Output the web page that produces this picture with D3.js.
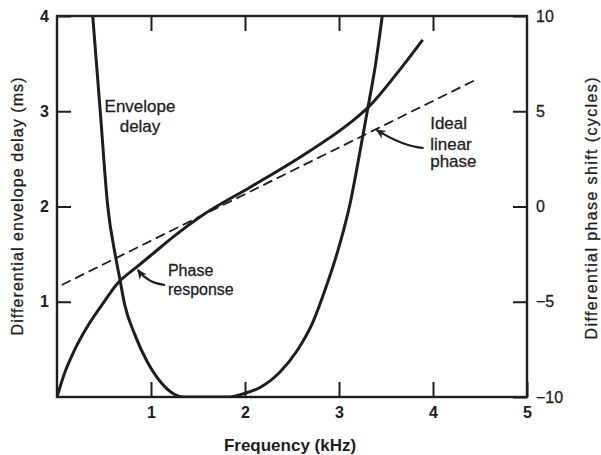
<!DOCTYPE html>
<html>
<head>
<meta charset="utf-8">
<script src="https://cdn.jsdelivr.net/npm/d3@7"></script>
<style>
  html, body { margin: 0; padding: 0; background: #fff; }
  svg { display: block; font-family: "Liberation Sans", Arial, sans-serif; }
</style>
</head>
<body>
<svg id="chart" width="601" height="455"></svg>
<script>
// ---- data ----
const envFreq  = [0.38, 0.46, 0.54, 0.62, 0.67, 0.72, 0.83, 0.96, 1.04, 1.10, 1.23, 1.35, 1.52, 1.84, 1.97, 2.16, 2.37, 2.55, 2.72, 2.85, 2.98, 3.12, 3.22, 3.31, 3.39, 3.46];
const envDelay = [4.0, 3.0, 2.0, 1.49, 1.23, 0.97, 0.65, 0.37, 0.24, 0.16, 0.04, 0.0, 0.0, 0.0, 0.03, 0.10, 0.26, 0.48, 0.78, 1.12, 1.51, 2.04, 2.56, 3.05, 3.5, 4.0];

const phaseFreq  = [0, 0.08, 0.19, 0.33, 0.48, 0.65, 0.83, 0.99, 1.26, 1.52, 2.05, 2.59, 3.12, 3.31, 3.65, 3.89];
const phaseShift = [-10, -8.75, -7.5, -6.25, -5.15, -4.0, -3.25, -2.6, -1.5, -0.55, 1.0, 2.6, 4.4, 5.2, 7.2, 8.75];

const idealFreq  = [0.05, 4.45];
const idealPhase = [-4.12, 6.64];

const xTickValues     = [1, 2, 3, 4, 5];
const leftTickValues  = [1, 2, 3, 4];
const rightTickValues = [10, 5, 0, -5, -10];

const xTitle     = "Frequency (kHz)";
const leftTitle  = "Differential envelope delay (ms)";
const rightTitle = "Differential phase shift (cycles)";

// ---- layout ----
const svg = d3.select("#chart");
const L = 57, R = 527, T = 16, B = 397;
const ink = "#1e1e1e";

const x  = d3.scaleLinear().domain([0, 5]).range([L, R]);
const yL = d3.scaleLinear().domain([0, 4]).range([B, T]);
const yR = d3.scaleLinear().domain([-10, 10]).range([B, T]);

const defs = svg.append("defs");
defs.append("clipPath").attr("id", "plot")
  .append("rect").attr("x", L).attr("y", T).attr("width", R - L).attr("height", B - T);

defs.append("marker")
  .attr("id", "arrow").attr("viewBox", "0 0 10 10").attr("refX", 9).attr("refY", 5)
  .attr("markerWidth", 10).attr("markerHeight", 10).attr("markerUnits", "userSpaceOnUse")
  .attr("orient", "auto")
  .append("path").attr("d", "M0,0.5 L10,5 L0,9.5 L3,5 Z").attr("fill", ink);

function styleAxis(g, fontSize, weight) {
  g.select(".domain").remove();
  g.selectAll(".tick line").attr("stroke", ink).attr("stroke-width", 2);
  g.selectAll(".tick text").attr("fill", ink).attr("font-size", fontSize)
    .attr("font-weight", weight).attr("font-family", "Liberation Sans, Arial, sans-serif");
}

// bottom axis
svg.append("g").attr("transform", `translate(0,${B})`)
  .call(d3.axisBottom(x).tickValues(xTickValues).tickFormat(d3.format("d")).tickSize(-15).tickPadding(10))
  .call(g => styleAxis(g, 16, "bold"));
// top axis (ticks only)
svg.append("g").attr("transform", `translate(0,${T})`)
  .call(d3.axisTop(x).tickValues(xTickValues.slice(0, 4)).tickFormat("").tickSize(-15))
  .call(g => styleAxis(g, 16, "normal"));
// left axis
svg.append("g").attr("transform", `translate(${L},0)`)
  .call(d3.axisLeft(yL).tickValues(leftTickValues).tickFormat(d3.format("d")).tickSize(-14).tickPadding(8))
  .call(g => styleAxis(g, 16, "bold"));
// right axis
svg.append("g").attr("transform", `translate(${R},0)`)
  .call(d3.axisRight(yR).tickValues(rightTickValues).tickFormat(d3.format("d")).tickSize(-14).tickPadding(9))
  .call(g => styleAxis(g, 16, "normal"))
  .call(g => g.selectAll(".tick text").attr("stroke", ink).attr("stroke-width", 0.3));

// frame
svg.append("rect").attr("x", L).attr("y", T).attr("width", R - L).attr("height", B - T)
  .attr("fill", "none").attr("stroke", ink).attr("stroke-width", 2.4);

// ---- curves ----
const plot = svg.append("g").attr("clip-path", "url(#plot)");

const envLine = d3.line().x(d => x(d[0])).y(d => yL(d[1])).curve(d3.curveMonotoneX);
plot.append("path").datum(envFreq.map((f, i) => [f, envDelay[i]]))
  .attr("d", envLine).attr("fill", "none").attr("stroke", ink).attr("stroke-width", 3);

const phLine = d3.line().x(d => x(d[0])).y(d => yR(d[1])).curve(d3.curveMonotoneX);
plot.append("path").datum(phaseFreq.map((f, i) => [f, phaseShift[i]]))
  .attr("d", phLine).attr("fill", "none").attr("stroke", ink).attr("stroke-width", 3);

const idLine = d3.line().x(d => x(d[0])).y(d => yR(d[1]));
plot.append("path").datum(idealFreq.map((f, i) => [f, idealPhase[i]]))
  .attr("d", idLine).attr("fill", "none").attr("stroke", ink).attr("stroke-width", 1.8)
  .attr("stroke-dasharray", "10,5");

// ---- annotations ----
const ann = svg.append("g").attr("fill", ink).attr("stroke", ink).attr("stroke-width", 0.3);
ann.append("text").attr("x", x(0.883)).attr("y", yL(2.99)).attr("font-size", 17).attr("text-anchor", "middle").text("Envelope");
ann.append("text").attr("x", x(0.883)).attr("y", yL(2.78)).attr("font-size", 17).attr("text-anchor", "middle").text("delay");

ann.append("text").attr("x", x(1.18)).attr("y", yR(-3.65)).attr("font-size", 16).text("Phase");
ann.append("text").attr("x", x(1.18)).attr("y", yR(-4.65)).attr("font-size", 16).text("response");

ann.append("text").attr("x", x(3.97)).attr("y", yR(4.09)).attr("font-size", 17).text("Ideal");
ann.append("text").attr("x", x(3.97)).attr("y", yR(2.98)).attr("font-size", 17).text("linear");
ann.append("text").attr("x", x(3.97)).attr("y", yR(2.05)).attr("font-size", 17).text("phase");

function arrow(p0, c, p1) {
  const p = d3.path();
  p.moveTo(x(p0[0]), yR(p0[1]));
  p.quadraticCurveTo(x(c[0]), yR(c[1]), x(p1[0]), yR(p1[1]));
  svg.append("path").attr("d", p.toString()).attr("fill", "none")
    .attr("stroke", ink).attr("stroke-width", 2.2).attr("marker-end", "url(#arrow)");
}
arrow([1.15, -4.12], [0.97, -4.05], [0.86, -3.33]);
arrow([3.90, 3.07], [3.68, 3.15], [3.40, 4.02]);

// ---- axis titles ----
svg.append("text").attr("x", (L + R) / 2 - 2).attr("y", 451)
  .attr("text-anchor", "middle").attr("font-size", 17).attr("font-weight", "bold")
  .attr("fill", ink).text(xTitle);

svg.append("text").attr("transform", `translate(23,${(T + B) / 2}) rotate(-90)`)
  .attr("text-anchor", "middle").attr("font-size", 16).attr("fill", ink)
  .attr("stroke", ink).attr("stroke-width", 0.3)
  .attr("textLength", 258).attr("lengthAdjust", "spacing").text(leftTitle);

svg.append("text").attr("transform", `translate(597,${(T + B) / 2 + 2}) rotate(-90)`)
  .attr("text-anchor", "middle").attr("font-size", 16).attr("fill", ink)
  .attr("stroke", ink).attr("stroke-width", 0.3)
  .attr("textLength", 262).attr("lengthAdjust", "spacing").text(rightTitle);
</script>
</body>
</html>
